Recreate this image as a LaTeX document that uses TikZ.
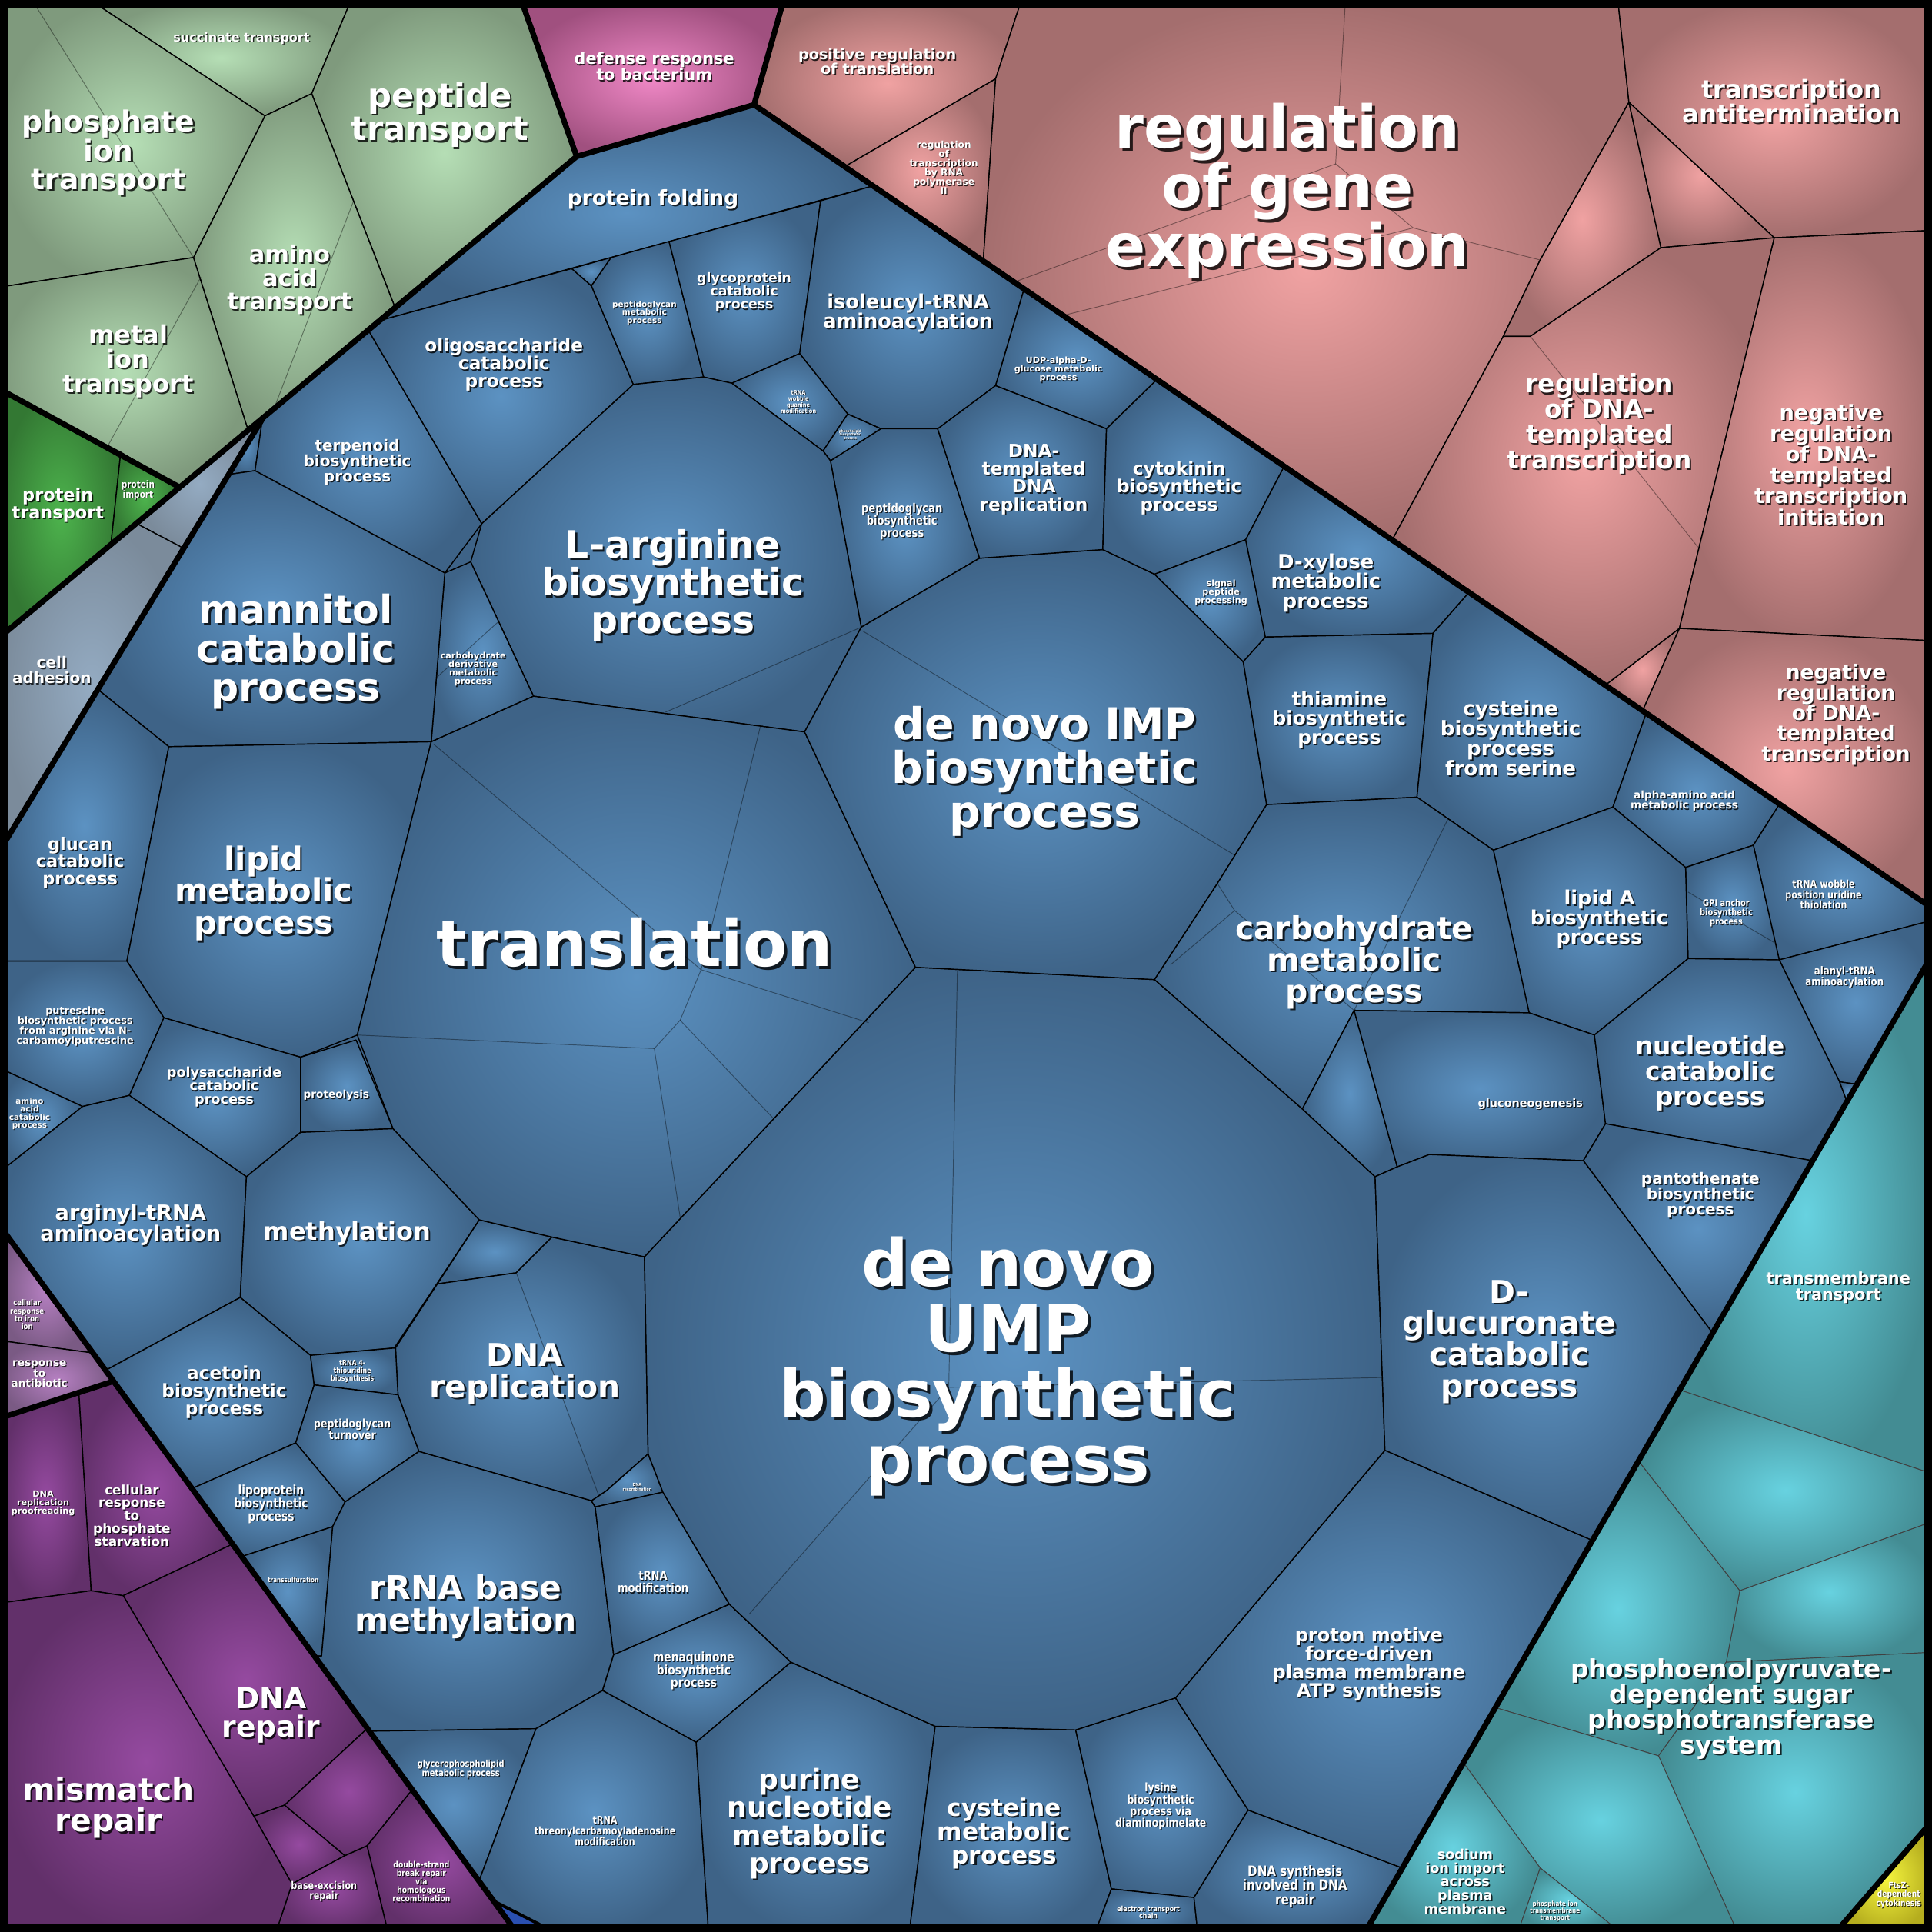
\documentclass[tikz,border=0pt]{standalone}
\usepackage{fontspec}
\setmainfont{DejaVu Sans}
\newfontfamily\condf{DejaVu Sans}[FakeStretch=0.82]
\definecolor{blueOut}{HTML}{3E6387}
\definecolor{blueIn}{HTML}{5C92C2}
\definecolor{pinkOut}{HTML}{A46E6E}
\definecolor{pinkIn}{HTML}{F0A2A2}
\definecolor{greenOut}{HTML}{7F9A7D}
\definecolor{greenIn}{HTML}{B5DEB5}
\definecolor{dgreenOut}{HTML}{337833}
\definecolor{dgreenIn}{HTML}{4DB34D}
\definecolor{greyOut}{HTML}{7B8B9B}
\definecolor{greyIn}{HTML}{94ABC2}
\definecolor{magOut}{HTML}{A0507F}
\definecolor{magIn}{HTML}{F088C6}
\definecolor{lpurOut}{HTML}{7A5A84}
\definecolor{lpurIn}{HTML}{B680C2}
\definecolor{dpurOut}{HTML}{62306A}
\definecolor{dpurIn}{HTML}{954AA0}
\definecolor{tealOut}{HTML}{438C93}
\definecolor{tealIn}{HTML}{67D2E0}
\definecolor{yelOut}{HTML}{B5AD1E}
\definecolor{yelIn}{HTML}{F6F63E}
\definecolor{dblue}{HTML}{2A4FB0}
\tikzset{
  cellb/.style={draw=black,line width=0.9pt,line join=round},
  bc/.style={cellb,inner color=blueIn,outer color=blueOut},
  pc/.style={cellb,inner color=pinkIn,outer color=pinkOut},
  gc/.style={cellb,inner color=greenIn,outer color=greenOut},
  dgc/.style={cellb,inner color=dgreenIn,outer color=dgreenOut},
  gyc/.style={cellb,inner color=greyIn,outer color=greyOut},
  mgc/.style={cellb,inner color=magIn,outer color=magOut},
  lpc/.style={cellb,inner color=lpurIn,outer color=lpurOut},
  ppc/.style={cellb,inner color=dpurIn,outer color=dpurOut},
  tc/.style={draw=black!75,line width=0.6pt,line join=round,inner color=tealIn,outer color=tealOut},
  yc/.style={cellb,inner color=yelIn,outer color=yelOut},
  faint/.style={draw=black,opacity=0.4,line width=0.6pt},
  grp/.style={draw=black,line width=4.5pt,line cap=round,line join=round},
  lbl/.style={align=center,inner sep=0pt,text=white}
}
\newcommand\lb[5]{%
  \node[lbl,text=black,text opacity=0.8,font={\fontsize{#4}{#4}\selectfont\bfseries}] (#1s) at (#2+0.04*#4+0.5,#3+0.04*#4+0.5) {#5};
  \node[lbl,font={\fontsize{#4}{#4}\selectfont\bfseries}] (#1) at (#2,#3) {#5};}
\newcommand\lc[5]{%
  \node[lbl,text=black,text opacity=0.8,font={\condf\fontsize{#4}{#4}\selectfont\bfseries}] (#1s) at (#2+0.04*#4+0.4,#3+0.04*#4+0.4) {#5};
  \node[lbl,font={\condf\fontsize{#4}{#4}\selectfont\bfseries}] (#1) at (#2,#3) {#5};}
\begin{document}
\begin{tikzpicture}[x=1pt,y=-1pt]
\useasboundingbox (0,0) rectangle (1568,1568);
\fill[black] (0,0) rectangle (1568,1568);
% ---------- base fills of groups
\fill[blueOut] (468,127) -- (612,85) -- (1568,737) -- (1568,775) -- (1108,1568) -- (419,1568) -- (0,995) -- (0,690) -- (213,340) -- cycle;
\fill[pinkOut] (636,0) -- (1568,0) -- (1568,737) -- (612,85) -- cycle;
\fill[tealOut] (1568,775) -- (1568,1568) -- (1108,1568) -- cycle;
\fill[dpurOut] (0,1151) -- (92,1121) -- (419,1568) -- (0,1568) -- cycle;
% ---------- green group
\path[gc] (73,0) -- (285,0) -- (253,76) -- (215,94) -- cycle;
\path[gc] (285,0) -- (423,0) -- (468,127) -- (320,248) -- (253,76) -- cycle;
\path[gc] (253,76) -- (320,248) -- (201,348) -- (157,209) -- (215,94) -- cycle;
\path[gc] (0,0) -- (73,0) -- (215,94) -- (157,209) -- (0,233) -- cycle;
\path[gc] (0,233) -- (157,209) -- (201,348) -- (145,395) -- (0,316) -- cycle;
\draw[faint] (26,0) -- (157,209);
\draw[faint] (287,163) -- (223,330);
\draw[faint] (163,225) -- (88,361);
% dark green
\path[dgc] (0,316) -- (98,367) -- (90,442) -- (0,517) -- cycle;
\path[dgc] (98,367) -- (145,395) -- (90,442) -- cycle;
% grey
\path[gyc] (213,340) -- (111,425) -- (149,445) -- cycle;
\path[gyc] (111,425) -- (149,445) -- (0,690) -- (0,517) -- cycle;
% magenta
\path[mgc] (423,0) -- (636,0) -- (612,85) -- (468,127) -- cycle;
% ---------- pink group
\path[pc] (636,0) -- (829,0) -- (808,64) -- (686,135) -- (612,85) -- cycle;
\path[pc] (808,64) -- (798,212) -- (686,135) -- cycle;
\path[pc] (829,0) -- (1313,0) -- (1322,83) -- (1250,211) -- (1220,273) -- (1130,438) -- (798,212) -- (808,64) -- cycle;
\draw[faint] (1092,0) -- (1084,133) -- (1147,185) -- (1250,211);
\draw[faint] (1084,133) -- (823,229);
\draw[faint] (1147,185) -- (863,256);
\path[pc] (1313,0) -- (1568,0) -- (1568,187) -- (1440,193) -- (1322,83) -- cycle;
\path[pc] (1322,83) -- (1348,201) -- (1242,273) -- (1220,273) -- (1250,211) -- cycle;
\path[pc] (1322,83) -- (1440,193) -- (1348,201) -- cycle;
\path[pc] (1220,273) -- (1242,273) -- (1348,201) -- (1440,193) -- (1363,510) -- (1303,556) -- (1130,438) -- cycle;
\draw[faint] (1242,273) -- (1378,444);
\path[pc] (1440,193) -- (1568,187) -- (1568,520) -- (1363,510) -- cycle;
\path[pc] (1303,556) -- (1363,510) -- (1333,577) -- cycle;
\path[pc] (1363,510) -- (1568,520) -- (1568,737) -- (1333,577) -- cycle;
% ---------- blue group
\path[bc] (468,127) -- (612,85) -- (708,151) -- (309,260) -- cycle;
\path[bc] (213,340) -- (207,382) -- (186,385) -- cycle;
\path[bc] (213,340) -- (299,268) -- (391,425) -- (361,465) -- (207,382) -- cycle;
\path[bc] (299,268) -- (309,260) -- (464,218) -- (480,232) -- (514,312) -- (391,425) -- cycle;
\path[bc] (464,218) -- (496,209) -- (480,232) -- cycle;
\path[bc] (496,209) -- (543,196) -- (571,306) -- (514,312) -- (480,232) -- cycle;
\path[bc] (543,196) -- (666,163) -- (649,287) -- (594,311) -- (571,306) -- cycle;
\path[bc] (666,163) -- (708,151) -- (831,235) -- (808,313) -- (761,348) -- (715,348) -- (688,336) -- (649,287) -- cycle;
\path[bc] (594,311) -- (649,287) -- (688,336) -- (668,366) -- cycle;
\path[bc] (688,336) -- (715,348) -- (674,374) -- (668,366) -- cycle;
\path[bc] (674,374) -- (715,348) -- (761,348) -- (795,453) -- (699,509) -- cycle;
\path[bc] (391,425) -- (514,312) -- (571,306) -- (594,311) -- (668,366) -- (674,374) -- (699,509) -- (653,594) -- (433,565) -- (382,456) -- cycle;
\draw[faint] (540,578) -- (699,509);
\path[bc] (361,465) -- (382,456) -- (433,565) -- (350,602) -- cycle;
\draw[faint] (352,552) -- (404,505);
\path[bc] (186,385) -- (207,382) -- (361,465) -- (350,602) -- (137,606) -- (80,560) -- cycle;
\path[bc] (0,690) -- (80,560) -- (137,606) -- (103,780) -- (0,780) -- cycle;
\path[bc] (137,606) -- (350,602) -- (290,840) -- (244,858) -- (133,826) -- (103,780) -- cycle;
\path[bc] (0,780) -- (103,780) -- (133,826) -- (105,889) -- (67,898) -- (0,867) -- cycle;
\path[bc] (0,867) -- (67,898) -- (0,951) -- cycle;
\path[bc] (133,826) -- (244,858) -- (244,919) -- (200,955) -- (105,889) -- cycle;
\path[bc] (244,858) -- (289,844) -- (319,916) -- (244,919) -- cycle;
\path[bc] (0,951) -- (67,898) -- (105,889) -- (200,955) -- (195,1053) -- (86,1112) -- (0,995) -- cycle;
\path[bc] (200,955) -- (244,919) -- (319,916) -- (389,990) -- (320,1094) -- (252,1100) -- (195,1053) -- cycle;
\path[bc] (389,990) -- (448,1004) -- (419,1033) -- (355,1042) -- cycle;
\path[bc] (355,1042) -- (419,1033) -- (448,1004) -- (523,1020) -- (526,1180) -- (492,1210) -- (480,1218) -- (340,1178) -- (323,1132) -- (321,1094) -- cycle;
\draw[faint] (419,1033) -- (486,1214);
\path[bc] (86,1112) -- (195,1053) -- (252,1100) -- (255,1124) -- (240,1171) -- (156,1208) -- cycle;
\path[bc] (252,1100) -- (321,1094) -- (323,1132) -- (255,1124) -- cycle;
\path[bc] (255,1124) -- (323,1132) -- (340,1178) -- (280,1219) -- (240,1171) -- cycle;
\path[bc] (156,1208) -- (240,1171) -- (280,1219) -- (270,1239) -- (197,1263) -- cycle;
\path[bc] (197,1263) -- (270,1239) -- (261,1344) -- (256,1344) -- cycle;
\path[bc] (270,1239) -- (280,1219) -- (340,1178) -- (480,1218) -- (483,1223) -- (498,1343) -- (489,1372) -- (435,1403) -- (301,1405) -- (256,1344) -- (261,1344) -- cycle;
\path[bc] (480,1218) -- (492,1210) -- (526,1180) -- (538,1211) -- (483,1223) -- cycle;
\path[bc] (483,1223) -- (538,1211) -- (592,1302) -- (498,1343) -- cycle;
\path[bc] (489,1372) -- (498,1343) -- (592,1302) -- (642,1349) -- (565,1414) -- cycle;
\path[bc] (301,1405) -- (435,1403) -- (389,1526) -- cycle;
\path[bc] (435,1403) -- (489,1372) -- (565,1414) -- (575,1568) -- (450,1568) -- (401,1543) -- (389,1526) -- cycle;
\path[bc] (565,1414) -- (642,1349) -- (759,1401) -- (738,1568) -- (575,1568) -- cycle;
\path[bc] (759,1401) -- (873,1404) -- (902,1533) -- (889,1568) -- (738,1568) -- cycle;
\path[bc] (873,1404) -- (954,1378) -- (1013,1469) -- (969,1540) -- (902,1533) -- cycle;
\path[bc] (902,1533) -- (969,1540) -- (972,1568) -- (889,1568) -- cycle;
\path[bc] (1013,1469) -- (1138,1516) -- (1108,1568) -- (972,1568) -- (969,1540) -- cycle;
\path[bc] (1124,1177) -- (1292,1250) -- (1138,1516) -- (1013,1469) -- (954,1378) -- cycle;
\path[bc] (523,1020) -- (743,785) -- (937,795) -- (1057,900) -- (1116,955) -- (1124,1177) -- (954,1378) -- (873,1404) -- (759,1401) -- (642,1349) -- (592,1302) -- (538,1211) -- (526,1180) -- cycle;
\draw[faint] (777,788) -- (770,1126) -- (1122,1118);
\draw[faint] (770,1126) -- (608,1310);
\path[bc] (350,602) -- (433,565) -- (653,594) -- (743,785) -- (523,1020) -- (448,1004) -- (389,990) -- (319,916) -- (290,840) -- cycle;
\draw[faint] (352,604) -- (569,787) -- (705,830);
\draw[faint] (617,590) -- (569,787) -- (552,828) -- (531,851) -- (290,840);
\draw[faint] (531,851) -- (552,988);
\draw[faint] (552,828) -- (628,908);
\path[bc] (653,594) -- (699,509) -- (795,453) -- (895,446) -- (937,466) -- (1009,537) -- (1028,653) -- (988,717) -- (937,795) -- (743,785) -- cycle;
\draw[faint] (700,512) -- (1002,694);
\path[bc] (831,235) -- (939,308) -- (898,348) -- (808,313) -- cycle;
\path[bc] (808,313) -- (898,348) -- (895,446) -- (795,453) -- (761,348) -- cycle;
\path[bc] (898,348) -- (939,308) -- (1042,379) -- (1011,438) -- (937,466) -- (895,446) -- cycle;
\path[bc] (937,466) -- (1011,438) -- (1027,517) -- (1009,537) -- cycle;
\path[bc] (1011,438) -- (1042,379) -- (1192,481) -- (1163,514) -- (1027,517) -- cycle;
\path[bc] (1027,517) -- (1163,514) -- (1150,647) -- (1028,653) -- (1009,537) -- cycle;
\path[bc] (1163,514) -- (1192,481) -- (1336,579) -- (1309,655) -- (1212,690) -- (1150,647) -- cycle;
\path[bc] (1336,579) -- (1444,653) -- (1423,686) -- (1368,704) -- (1309,655) -- cycle;
\path[bc] (1444,653) -- (1568,737) -- (1568,747) -- (1444,779) -- (1423,686) -- cycle;
\path[bc] (1368,704) -- (1423,686) -- (1444,779) -- (1370,778) -- cycle;
\draw[faint] (1370,724) -- (1440,765);
\path[bc] (1444,779) -- (1568,747) -- (1568,775) -- (1507,880) -- (1493,878) -- cycle;
\path[bc] (1212,690) -- (1309,655) -- (1368,704) -- (1370,778) -- (1294,840) -- (1241,822) -- cycle;
\path[bc] (1028,653) -- (1150,647) -- (1212,690) -- (1241,822) -- (1099,820) -- (1057,900) -- (937,795) -- (988,717) -- cycle;
\draw[faint] (988,717) -- (1002,739) -- (1099,820);
\draw[faint] (1002,739) -- (950,783);
\draw[faint] (1099,820) -- (1175,665);
\path[bc] (1099,820) -- (1134,947) -- (1116,955) -- (1057,900) -- cycle;
\path[bc] (1099,820) -- (1241,822) -- (1294,840) -- (1303,912) -- (1285,942) -- (1160,937) -- (1134,947) -- cycle;
\path[bc] (1294,840) -- (1370,778) -- (1444,779) -- (1493,878) -- (1499,894) -- (1471,942) -- (1303,912) -- cycle;
\path[bc] (1493,878) -- (1507,880) -- (1499,894) -- cycle;
\path[bc] (1303,912) -- (1471,942) -- (1390,1082) -- (1285,942) -- cycle;
\path[bc] (1116,955) -- (1134,947) -- (1160,937) -- (1285,942) -- (1390,1082) -- (1292,1250) -- (1124,1177) -- cycle;
% ---------- teal group
\path[tc] (1568,775) -- (1568,1196) -- (1363,1128) -- cycle;
\path[tc] (1363,1128) -- (1568,1196) -- (1568,1235) -- (1412,1291) -- (1330,1186) -- cycle;
\path[tc] (1412,1291) -- (1568,1235) -- (1568,1341) -- (1401,1349) -- cycle;
\path[tc] (1330,1186) -- (1412,1291) -- (1401,1349) -- (1346,1425) -- (1214,1386) -- cycle;
\path[tc] (1401,1349) -- (1568,1341) -- (1568,1480) -- (1492,1568) -- (1410,1568) -- (1346,1425) -- cycle;
\path[tc] (1214,1386) -- (1346,1425) -- (1410,1568) -- (1315,1568) -- (1250,1516) -- (1188,1431) -- cycle;
\path[tc] (1188,1431) -- (1250,1516) -- (1232,1568) -- (1108,1568) -- cycle;
\path[tc] (1250,1516) -- (1315,1568) -- (1232,1568) -- cycle;
\path[yc] (1568,1480) -- (1568,1568) -- (1492,1568) -- cycle;
% ---------- purple groups
\path[lpc] (0,995) -- (75,1098) -- (0,1088) -- cycle;
\path[lpc] (0,1088) -- (75,1098) -- (92,1121) -- (0,1151) -- cycle;
\path[ppc] (0,1151) -- (64,1130) -- (74,1291) -- (0,1301) -- cycle;
\path[ppc] (64,1130) -- (92,1121) -- (189,1253) -- (100,1295) -- (74,1291) -- cycle;
\path[ppc] (100,1295) -- (189,1253) -- (299,1402) -- (231,1465) -- (206,1474) -- cycle;
\path[ppc] (206,1474) -- (231,1465) -- (280,1506) -- (237,1529) -- cycle;
\path[ppc] (231,1465) -- (299,1402) -- (335,1452) -- (298,1498) -- (280,1506) -- cycle;
\path[ppc] (237,1529) -- (280,1506) -- (298,1498) -- (315,1568) -- (224,1568) -- cycle;
\path[ppc] (298,1498) -- (335,1452) -- (419,1568) -- (315,1568) -- cycle;
\path[ppc] (0,1301) -- (74,1291) -- (100,1295) -- (206,1474) -- (237,1529) -- (224,1568) -- (0,1568) -- cycle;
\path[draw=black,line width=2.5pt,fill=dblue] (401,1543) -- (450,1568) -- (419,1568) -- cycle;
% ---------- group boundaries
\draw[grp] (423,0) -- (468,127) -- (612,85) -- (636,0);
\draw[grp] (468,127) -- (0,517);
\draw[grp] (0,316) -- (145,395);
\draw[grp] (213,340) -- (0,690);
\draw[grp] (612,85) -- (1568,737);
\draw[grp] (0,995) -- (419,1568);
\draw[grp] (0,1151) -- (92,1121);
\draw[grp] (1568,775) -- (1108,1568);
\draw[grp] (1568,1478) -- (1490,1568);
\draw[line width=12pt] (0,0) rectangle (1568,1568);
% ---------- labels
\lb{lsucc}{196}{31}{10}{succinate transport}
\lb{lphos}{88}{124}{23.5}{phosphate\\ion\\transport}
\lb{lpept}{357}{93}{27}{peptide\\transport}
\lb{lamin}{235}{227}{19}{amino\\acid\\transport}
\lb{lmetal}{104}{293}{20}{metal\\ion\\transport}
\lb{lprot}{47}{410}{14}{protein\\transport}
\lc{limp}{112}{398}{8}{protein\\import}
\lb{lcell}{42}{544}{12.5}{cell\\adhesion}
\lb{ldef}{531}{54}{13}{defense response\\to bacterium}
\lb{lpos}{712}{50}{12}{positive regulation\\of translation}
\lb{lrpol}{766}{136}{7.6}{regulation\\of\\transcription\\by RNA\\polymerase\\II}
\lb{lgene}{1045}{155}{48}{regulation\\of gene\\expression}
\lb{lanti}{1454}{82}{20}{transcription\\antitermination}
\lb{lrdna}{1298}{344}{20.5}{regulation\\of DNA-\\templated\\transcription}
\lb{lninit}{1486}{377}{17}{negative\\regulation\\of DNA-\\templated\\transcription\\initiation}
\lb{lneg}{1490}{580}{16.5}{negative\\regulation\\of DNA-\\templated\\transcription}
\lb{lfold}{530}{162}{16.5}{protein folding}
\lb{loligo}{409}{296}{14.5}{oligosaccharide\\catabolic\\process}
\lb{lpgm}{523}{254}{6.5}{peptidoglycan\\metabolic\\process}
\lb{lglyco}{604}{237}{10.8}{glycoprotein\\catabolic\\process}
\lb{liso}{737}{254}{16}{isoleucyl-tRNA\\aminoacylation}
\lb{lterp}{290}{375}{12.5}{terpenoid\\biosynthetic\\process}
\lc{lwob}{648}{326}{5}{tRNA\\wobble\\guanine\\modification}
\lc{lphl}{690}{353}{3}{phospholipid\\biosynthetic\\process}
\lb{ludp}{859}{300}{7}{UDP-alpha-D-\\glucose metabolic\\process}
\lb{larg}{546}{475}{30.5}{L-arginine\\biosynthetic\\process}
\lc{lpgb}{732}{423}{10}{peptidoglycan\\biosynthetic\\process}
\lb{ldnat}{839}{389}{14.5}{DNA-\\templated\\DNA\\replication}
\lb{lcyto}{957}{396}{14.5}{cytokinin\\biosynthetic\\process}
\lb{lsig}{991}{481}{7}{signal\\peptide\\processing}
\lb{lxyl}{1076}{473}{16}{D-xylose\\metabolic\\process}
\lb{lmann}{240}{529}{31.5}{mannitol\\catabolic\\process}
\lb{lcder}{384}{543}{7}{carbohydrate\\derivative\\metabolic\\process}
\lb{limpb}{848}{626}{35.5}{de novo IMP\\biosynthetic\\process}
\lb{lthia}{1087}{584}{15.5}{thiamine\\biosynthetic\\process}
\lb{lcser}{1226}{599}{16.3}{cysteine\\biosynthetic\\process\\from serine}
\lb{lalpha}{1367}{650}{8.5}{alpha-amino acid\\metabolic process}
\lc{lwobu}{1480}{726}{8.5}{tRNA wobble\\position uridine\\thiolation}
\lc{lgpi}{1401}{741}{7.5}{GPI anchor\\biosynthetic\\process}
\lc{lala}{1497}{793}{9}{alanyl-tRNA\\aminoacylation}
\lb{lglucan}{65}{700}{14}{glucan\\catabolic\\process}
\lb{llipid}{214}{725}{26}{lipid\\metabolic\\process}
\lb{ltrans}{515}{765}{52}{translation}
\lb{lcarb}{1099}{781}{25.5}{carbohydrate\\metabolic\\process}
\lb{llipa}{1298}{746}{16}{lipid A\\biosynthetic\\process}
\lb{lput}{61}{833}{8}{putrescine\\biosynthetic process\\from arginine via N-\\carbamoylputrescine}
\lb{laac}{24}{904}{6.5}{amino\\acid\\catabolic\\process}
\lb{lpoly}{182}{882}{11}{polysaccharide\\catabolic\\process}
\lb{lproteo}{273}{889}{8.5}{proteolysis}
\lb{lnuc}{1388}{871}{20.5}{nucleotide\\catabolic\\process}
\lb{lgluc}{1242}{896}{9}{gluconeogenesis}
\lb{lpant}{1380}{970}{12.5}{pantothenate\\biosynthetic\\process}
\lb{largi}{106}{994}{17}{arginyl-tRNA\\aminoacylation}
\lb{lmeth}{282}{1001}{20}{methylation}
\lb{lump}{818}{1109}{53}{de novo\\UMP\\biosynthetic\\process}
\lb{lglcr}{1225}{1089}{25.5}{D-\\glucuronate\\catabolic\\process}
\lb{ltm}{1492}{1045}{13}{transmembrane\\transport}
\lb{lacet}{182}{1130}{14.5}{acetoin\\biosynthetic\\process}
\lc{lthio}{286}{1113}{6}{tRNA 4-\\thiouridine\\biosynthesis}
\lb{ldnar}{426}{1115}{25.5}{DNA\\replication}
\lc{liron}{22}{1067}{6.5}{cellular\\response\\to iron\\ion}
\lb{lantib}{32}{1115}{8.5}{response\\to\\antibiotic}
\lc{lpgt}{286}{1160}{9.5}{peptidoglycan\\turnover}
\lc{llipo}{220}{1221}{10.5}{lipoprotein\\biosynthetic\\process}
\lc{ltsulf}{238}{1282}{5.5}{transsulfuration}
\lb{lproof}{35}{1220}{7}{DNA\\replication\\proofreading}
\lb{lpstar}{107}{1230}{10.5}{cellular\\response\\to\\phosphate\\starvation}
\lb{lrep}{220}{1392}{23.5}{DNA\\repair}
\lb{lmis}{88}{1467}{25.5}{mismatch\\repair}
\lc{lbase}{263}{1535}{8.5}{base-excision\\repair}
\lc{ldsb}{342}{1527}{7}{double-strand\\break repair\\via\\homologous\\recombination}
\lb{lrrna}{378}{1304}{26.5}{rRNA base\\methylation}
\lc{lrecomb}{517}{1207}{3.5}{DNA\\recombination}
\lc{ltmod}{530}{1284}{10}{tRNA\\modification}
\lc{lmena}{563}{1356}{10.5}{menaquinone\\biosynthetic\\process}
\lc{lgpl}{374}{1436}{7.5}{glycerophospholipid\\metabolic process}
\lc{lthr}{491}{1486}{8.5}{tRNA\\threonylcarbamoyladenosine\\modification}
\lb{lpur}{657}{1480}{22.5}{purine\\nucleotide\\metabolic\\process}
\lb{lcys}{815}{1488}{19.5}{cysteine\\metabolic\\process}
\lc{llys}{942}{1466}{9.5}{lysine\\biosynthetic\\process via\\diaminopimelate}
\lc{lelec}{932}{1552}{6}{electron transport\\chain}
\lc{ldnas}{1051}{1531}{11.5}{DNA synthesis\\involved in DNA\\repair}
\lb{lproton}{1111}{1351}{15}{proton motive\\force-driven\\plasma membrane\\ATP synthesis}
\lb{lpts}{1405}{1387}{20.5}{phosphoenolpyruvate-\\dependent sugar\\phosphotransferase\\system}
\lb{lsod}{1189}{1527}{11}{sodium\\ion import\\across\\plasma\\membrane}
\lc{lpit}{1262}{1551}{5.5}{phosphate ion\\transmembrane\\transport}
\lc{lftsz}{1541}{1538}{7}{FtsZ-\\dependent\\cytokinesis}
\end{tikzpicture}
\end{document}
